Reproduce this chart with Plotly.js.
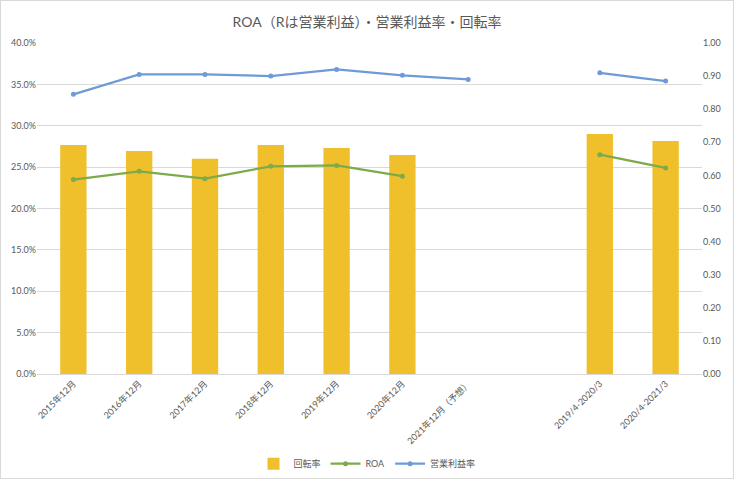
<!DOCTYPE html>
<html><head><meta charset="utf-8">
<script src="https://cdn.plot.ly/plotly-3.0.1.min.js"></script>
<style>html,body{margin:0;padding:0;background:#fff}#wrap{width:734px;height:479px;box-sizing:border-box;border:1px solid #d9d9d9}#chart{width:732px;height:477px}</style>
</head><body><div id="wrap"><div id="chart"></div></div>
<script>
const categories = ["2015年12月","2016年12月","2017年12月","2018年12月","2019年12月","2020年12月","2021年12月（予想）"," ","2019/4-2020/3","2020/4-2021/3"];
const turnover = [0.692,0.674,0.650,0.692,0.683,0.662,null,null,0.725,0.704];
const roa = [0.235,0.245,0.236,0.251,0.252,0.239,null,null,0.265,0.249];
const opMargin = [0.338,0.362,0.362,0.360,0.368,0.361,0.356,null,0.364,0.354];
const leftTicks = [0,0.05,0.10,0.15,0.20,0.25,0.30,0.35,0.40];
const rightTicks = [0,0.1,0.2,0.3,0.4,0.5,0.6,0.7,0.8,0.9,1.0];

const FONT = "Lato, 'Noto Sans CJK JP', sans-serif";
const traces = [
  {type:'bar', name:'回転率', x:categories, y:turnover, yaxis:'y', marker:{color:'#F0BF2C'}},
  {type:'scatter', mode:'lines+markers', name:'ROA', x:categories, y:roa, yaxis:'y2',
   line:{color:'#7DAA4A', width:2.25}, marker:{color:'#7DAA4A', size:5}, connectgaps:false},
  {type:'scatter', mode:'lines+markers', name:'営業利益率', x:categories, y:opMargin, yaxis:'y2',
   line:{color:'#6E9BD8', width:2.25}, marker:{color:'#6E9BD8', size:5}, connectgaps:false}
];
const layout = {
  width:732, height:477,
  margin:{l:36, r:31, t:42, b:104},
  paper_bgcolor:'#fff', plot_bgcolor:'rgba(0,0,0,0)',
  font:{family:FONT, size:9, color:'#595959'},
  title:{text:'ROA（Rは営業利益）・営業利益率・回転率', x:0.5, xanchor:'center', y:0.955, yanchor:'middle',
         font:{family:FONT, size:14, color:'#595959'}},
  bargap:0.6,
  xaxis:{type:'category', categoryorder:'array', categoryarray:categories, tickangle:-45,
         showgrid:false, showline:true, linecolor:'#d9d9d9', linewidth:1, ticks:'',
         tickfont:{size:9, color:'#595959'}, fixedrange:true},
  yaxis:{range:[0,1.0], tickvals:rightTicks, tickformat:'.2f', side:'right',
          showgrid:false, zeroline:false, showline:false, ticks:'', tickfont:{size:9, color:'#595959'}},
  yaxis2:{range:[0,0.40], tickvals:leftTicks, tickformat:'.1%', overlaying:'y', side:'left', showgrid:true, gridcolor:'#d9d9d9',
         zeroline:false, showline:false, ticks:'', tickfont:{size:9, color:'#595959'}},
  legend:{orientation:'h', x:0.5, xanchor:'center', xref:'container', yref:'container', y:0.03, yanchor:'middle',
          font:{size:9, color:'#595959'}, traceorder:'normal', itemwidth:30},
  showlegend:true
};
Plotly.newPlot('chart', traces, layout, {displayModeBar:false, staticPlot:true});
</script></body></html>
